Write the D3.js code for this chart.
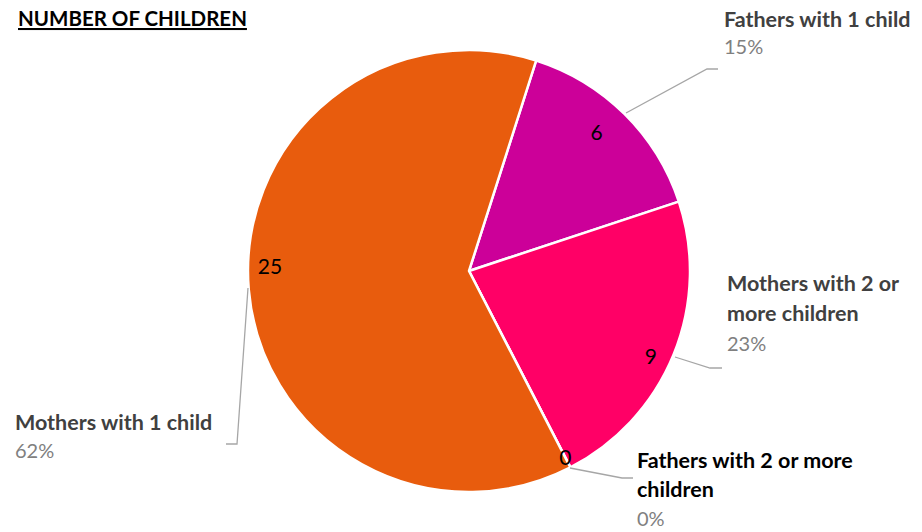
<!DOCTYPE html>
<html>
<head>
<meta charset="utf-8">
<script src="https://cdn.jsdelivr.net/npm/d3@7"></script>
<style>
  html, body { margin: 0; padding: 0; background: #fff; }
  svg { display: block; font-family: Lato, "Open Sans", sans-serif; }
</style>
</head>
<body>
<svg id="chart" width="922" height="532"></svg>
<script>
// Number of children, by parent type (pie order, clockwise)
const categories = ["Fathers with 1 child", "Mothers with 2 or more children", "Fathers with 2 or more children", "Mothers with 1 child"];
const values = [6, 9, 0, 25];
const percentLabels = ["15%", "23%", "0%", "62%"];
const colors = ["#CC0099", "#FF0066", "#7F7F7F", "#E85C0D"];

// Category label layout: wrapped lines, anchor, text colour, leader line
const labelLines = [
  ["Fathers with 1 child"],
  ["Mothers with 2 or", "more children"],
  ["Fathers with 2 or more", "children"],
  ["Mothers with 1 child"]
];
const labelPos = [
  { x: 724, y: 27, lh: 27, color: "#404040" },
  { x: 727, y: 291, lh: 30, color: "#404040" },
  { x: 637, y: 468, lh: 29, color: "#000000" },
  { x: 15, y: 430, lh: 28, color: "#404040" }
];
const leaderPts = [
  [[626, 113], [707, 69], [718, 69]],
  [[675, 357], [710, 368], [722, 368]],
  [[570, 468], [622, 478], [633, 478]],
  [[248, 288], [237, 444], [226, 444]]
];
// value label radius (px from centre) and angular nudge (deg)
const valueLabelR = [188, 201, 210, 199];
const valueLabelNudge = [-2, 3, 0, 6];

const svg = d3.select("#chart");
const cx = 469, cy = 271, R = 221;
const start = 17.7 * Math.PI / 180;

const pie = d3.pie().sort(null).value(d => d)
  .startAngle(start).endAngle(start + 2 * Math.PI);
const arcs = pie(values);
const arc = d3.arc().innerRadius(0).outerRadius(R);

const g = svg.append("g").attr("transform", `translate(${cx},${cy})`);
g.selectAll("path.slice").data(arcs).join("path")
  .attr("class", "slice")
  .attr("d", arc)
  .attr("fill", (d, i) => colors[i])
  .attr("stroke", "#fff")
  .attr("stroke-width", 2.5)
  .attr("stroke-linejoin", "round");

// value labels inside/edge of slices
g.selectAll("text.val").data(arcs).join("text")
  .attr("class", "val")
  .attr("x", (d, i) => {
    const a = (d.startAngle + d.endAngle) / 2 + valueLabelNudge[i] * Math.PI / 180;
    return Math.sin(a) * valueLabelR[i];
  })
  .attr("y", (d, i) => {
    const a = (d.startAngle + d.endAngle) / 2 + valueLabelNudge[i] * Math.PI / 180;
    return -Math.cos(a) * valueLabelR[i];
  })
  .attr("dy", "0.35em")
  .attr("text-anchor", "middle")
  .attr("font-size", 21)
  .attr("fill", "#000")
  .text((d, i) => values[i]);

// leader lines
const line = d3.line();
svg.selectAll("path.leader").data(leaderPts).join("path")
  .attr("class", "leader")
  .attr("d", line)
  .attr("fill", "none")
  .attr("stroke", "#A6A6A6")
  .attr("stroke-width", 1.3);

// category labels + percentages
categories.forEach((c, i) => {
  const p = labelPos[i];
  const t = svg.append("text")
    .attr("x", p.x).attr("y", p.y);
  labelLines[i].forEach((ln, k) => {
    t.append("tspan")
      .attr("x", p.x).attr("y", p.y + k * p.lh)
      .attr("font-size", 21.5)
      .attr("font-weight", "bold")
      .attr("fill", p.color)
      .text(ln);
  });
  t.append("tspan")
    .attr("x", p.x).attr("y", p.y + labelLines[i].length * p.lh)
    .attr("font-size", 20)
    .attr("fill", "#808080")
    .text(percentLabels[i]);
});

// title
svg.append("text")
  .attr("x", 18).attr("y", 26)
  .attr("font-size", 20.5)
  .attr("font-weight", "bold")
  .attr("fill", "#000")
  .attr("text-decoration", "underline")
  .text("NUMBER OF CHILDREN");
</script>
</body>
</html>
